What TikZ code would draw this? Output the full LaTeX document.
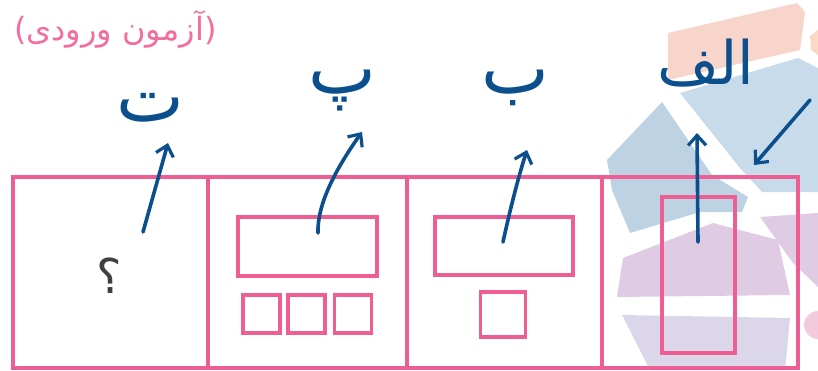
\documentclass[tikz,border=0pt]{standalone}
\usepackage{fontspec}
\newfontfamily\arabicfont[Script=Arabic]{DejaVu Sans}
\TeXXeTstate=1
\usetikzlibrary{arrows.meta}
\definecolor{pinkline}{HTML}{EF5E93}
\definecolor{ink}{HTML}{0B4F8C}
\definecolor{bgsalmon}{HTML}{F7D5CB}
\definecolor{bgblue}{HTML}{C8DBEA}
\definecolor{bgbluedark}{HTML}{BDD3E4}
\definecolor{bgpurple}{HTML}{DFCCE4}
\definecolor{bglav}{HTML}{DCD6EA}
\definecolor{bgpink}{HTML}{F3C9DE}
\tikzset{
  panel/.style={draw=pinkline, line width=3.2pt, minimum width=#1, minimum height=191pt, inner sep=0pt, outer sep=0pt},
  inbox/.style={draw=pinkline, line width=3.2pt, inner sep=0pt, outer sep=0pt},
  letter/.style={text=ink, font=\arabicfont\fontsize{72}{80}\selectfont, inner sep=0pt},
  hand/.style={draw=ink, line width=3.6pt, line cap=round, line join=round, -{Straight Barb[length=10pt,width=18pt,line width=3.2pt]}},
}
\begin{document}
\begin{tikzpicture}[x=1pt,y=-1pt]
\useasboundingbox (0,0) rectangle (818,370);
% background watermark shapes
\fill[bgsalmon] (668,33) -- (797,3) -- (805,12) -- (800,50) -- (668,80) -- cycle;
\fill[bgsalmon!85!orange!70] (810,36) -- (818,30) -- (818,55) -- (811,50) -- cycle;
\fill[bgblue] (680,93) -- (798,58) -- (818,68) -- (818,192) -- (762,192) -- (740,168) -- cycle;
\fill[bgbluedark] (607,160) -- (662,102) -- (712,175) -- (748,197) -- (742,212) -- (700,212) -- (630,233) -- (612,190) -- cycle;
\fill[bgpurple] (623,258) -- (713,223) -- (778,240) -- (790,295) -- (617,297) -- cycle;
\fill[bgpurple] (760,217) -- (818,213) -- (818,287) -- (793,263) -- cycle;
\fill[bglav] (622,315) -- (790,318) -- (785,370) -- (650,370) -- cycle;
\fill[bgpink] (818,311) arc[start angle=90, end angle=270, radius=14pt] -- cycle;
% title
\node[text=pinkline!90!white, font=\arabicfont\fontsize{32}{36}\selectfont, anchor=west, inner sep=0pt] (title) at (14,29) {\beginR(آزمون ورودی)\endR};
% panels
\node[panel=195pt] (p1) at (110.5,272.5) {};
\node[panel=199pt] (p2) at (307.5,272.5) {};
\node[panel=195pt] (p3) at (504.5,272.5) {};
\node[panel=196pt] (p4) at (700,272.5) {};
% panel 1
\node[text=black!75, font=\arabicfont\fontsize{48}{52}\selectfont, inner sep=0pt] (q) at (109,276) {؟};
% panel 2
\node[inbox, minimum width=139pt, minimum height=59pt] (b2) at (307.5,246.5) {};
\node[inbox, minimum width=37pt, minimum height=38pt] (s21) at (261.5,314) {};
\node[inbox, minimum width=37pt, minimum height=38pt] (s22) at (306.5,314) {};
\node[inbox, minimum width=37pt, minimum height=38pt] (s23) at (353,314) {};
% panel 3
\node[inbox, minimum width=138pt, minimum height=58pt] (b3) at (504,246) {};
\node[inbox, minimum width=45pt, minimum height=45pt] (s3) at (503,314.5) {};
% panel 4
\node[inbox, minimum width=73pt, minimum height=156pt] (b4) at (698.5,275) {};
% handwritten letters
\node[letter] (lt) at (150,108) {\beginR ت\endR};
\node[letter] (lp) at (342,91) {\beginR پ\endR};
\node[letter] (lb) at (515,88) {\beginR ب\endR};
\node[letter, font=\arabicfont\fontsize{60}{66}\selectfont] (la) at (706,63) {\beginR الف\endR};
% arrow anchors
\coordinate (a1s) at (143,232); \coordinate (a1e) at (168,143);
\coordinate (a2s) at (318,233); \coordinate (a2e) at (362,132);
\coordinate (a3s) at (503,242); \coordinate (a3e) at (527,150);
\coordinate (a4s) at (698,242); \coordinate (a4e) at (697,133);
\coordinate (a5s) at (810,100); \coordinate (a5e) at (754,165);
\draw[hand] (a1s) -- (a1e);
\draw[hand] (a2s) .. controls (317,205) and (335,170) .. (a2e);
\draw[hand] (a3s) .. controls (510,210) and (518,178) .. (a3e);
\draw[hand] (a4s) -- (a4e);
\draw[hand] (a5s) -- (a5e);
\end{tikzpicture}
\end{document}
